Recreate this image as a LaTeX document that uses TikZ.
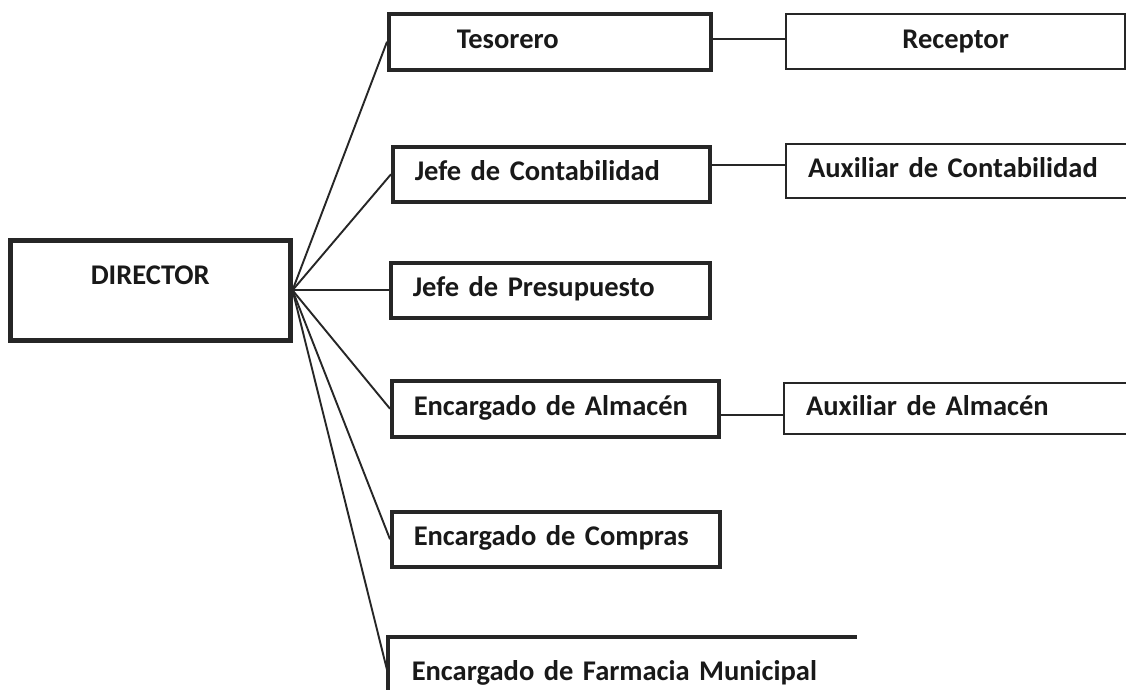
\documentclass[tikz,border=0pt]{standalone}
\usepackage{fontspec}
\setmainfont{Carlito}
\begin{document}
\begin{tikzpicture}[x=1pt,y=-1pt,
  box/.style={draw=black!85, line width=3.5pt, anchor=north west, inner xsep=22pt, inner ysep=0pt,
    font=\fontsize{28.5}{30}\selectfont\bfseries, text=black!90, align=left,
    text height=19pt, text depth=6pt},
  thinbox/.style={box, line width=2.3pt},
  conn/.style={draw=black!85, line width=1.9pt}]
\useasboundingbox (0,0) rectangle (1126,689);
\fill[white] (0,0) rectangle (1126,689);
% boxes
\node[box, line width=4.5pt, align=center, minimum width=280pt, minimum height=100pt, text depth=32pt, text height=20pt, inner xsep=0pt] (dir) at (8,238) {DIRECTOR};
\node[box, minimum width=322pt, minimum height=56pt, text width=278pt] (tes) at (387,12) {\hspace*{46pt}Tesorero};
\node[thinbox, minimum width=339pt, minimum height=55pt, text width=295pt, align=center] (rec) at (785,13) {Receptor};
\node[box, minimum width=317pt, minimum height=55pt, text width=273pt] (cont) at (391,145) {Jefe de Contabilidad};
\node[thinbox, minimum width=360pt, minimum height=54pt, text width=316pt] (auxc) at (785,143) {Auxiliar de Contabilidad};
\node[box, minimum width=319pt, minimum height=55pt, text width=275pt] (pres) at (389,261) {Jefe de Presupuesto};
\node[box, minimum width=327pt, minimum height=56pt, text width=283pt] (alm) at (390,379) {Encargado de Almacén};
\node[thinbox, minimum width=360pt, minimum height=51pt, text width=316pt] (auxa) at (783,382) {Auxiliar de Almacén};
\node[box, minimum width=328pt, minimum height=55pt, text width=284pt] (comp) at (390,510) {Encargado de Compras};
\node[box, draw=none, minimum width=465pt, minimum height=70pt, text width=421pt] (farm) at (388,637) {Encargado de Farmacia Municipal};
\draw[draw=black!85, line width=3.5pt] (farm.south west) -- (farm.north west) -- (farm.north east);
% fan connectors
\foreach \t in {tes,cont,pres,alm,comp,farm}
  \draw[conn] (dir.east) -- (\t.west);
% side connectors
\draw[conn] ([yshift=3pt]tes.east) -- ([yshift=3pt]tes.east -| rec.west);
\draw[conn] ([yshift=9pt]cont.east) -- ([yshift=9pt]cont.east -| auxc.west);
\draw[conn] ([yshift=-6pt]alm.east) -- ([yshift=-6pt]alm.east -| auxa.west);
\end{tikzpicture}
\end{document}
